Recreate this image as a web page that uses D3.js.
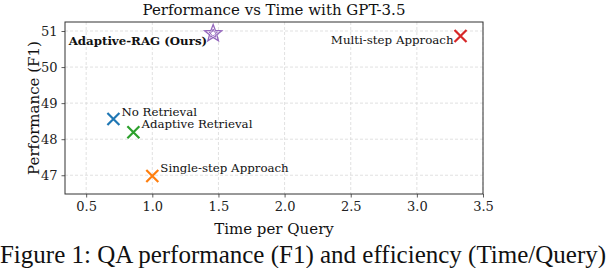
<!DOCTYPE html>
<html><head><meta charset="utf-8">
<script src="https://cdn.jsdelivr.net/npm/d3@7"></script>
<style>body{margin:0;background:#fff}svg{display:block}</style>
</head><body>
<svg id="c" width="606" height="268"></svg>
<script>
const methods = ["No Retrieval","Adaptive Retrieval","Single-step Approach","Multi-step Approach","Adaptive-RAG (Ours)"];
const timePerQuery = [0.706, 0.857, 1.0, 3.33, 1.46];
const performanceF1 = [48.56, 48.19, 46.98, 50.86, 50.93];
const colors = ["#1f77b4","#2ca02c","#ff7f0e","#d62728","#9467bd"];
const xTicks = [0.5,1.0,1.5,2.0,2.5,3.0,3.5];
const yTicks = [47,48,49,50,51];
const titleText = "Performance vs Time with GPT-3.5";
const xLabel = "Time per Query";
const yLabel = "Performance (F1)";
const caption = "Figure 1: QA performance (F1) and efficiency (Time/Query)";

const svg = d3.select("#c");
const L=65,R=483,T=22,B=194;
const x = d3.scaleLinear().domain([0.34,3.5]).range([L,R]);
const y = d3.scaleLinear().domain([46.48,51.25]).range([B,T]);
const serif = "DejaVu Serif";

// grid
const g = svg.append("g");
g.selectAll(".gx").data(xTicks).join("line")
  .attr("x1",d=>x(d)).attr("x2",d=>x(d)).attr("y1",T).attr("y2",B)
  .attr("stroke","#d9d9d9").attr("stroke-width",0.8).attr("stroke-dasharray","3,2");
g.selectAll(".gy").data(yTicks).join("line")
  .attr("y1",d=>y(d)).attr("y2",d=>y(d)).attr("x1",L).attr("x2",R)
  .attr("stroke","#d9d9d9").attr("stroke-width",0.8).attr("stroke-dasharray","3,2");

// axes
const xa = svg.append("g").attr("transform",`translate(0,${B})`)
  .call(d3.axisBottom(x).tickValues(xTicks).tickFormat(d3.format(".1f")).tickSize(3.5).tickPadding(4));
const ya = svg.append("g").attr("transform",`translate(${L},0)`)
  .call(d3.axisLeft(y).tickValues(yTicks).tickFormat(d3.format("d")).tickSize(3.5).tickPadding(4));
[xa,ya].forEach(a=>{
  a.select(".domain").remove();
  a.selectAll(".tick line").attr("stroke","#333").attr("stroke-width",0.8);
  a.selectAll(".tick text").attr("font-family",serif).attr("font-size",13).attr("fill","#222");
});
svg.append("rect").attr("x",L).attr("y",T).attr("width",R-L).attr("height",B-T)
  .attr("fill","none").attr("stroke","#333").attr("stroke-width",1);

// markers
const pts = methods.map((m,i)=>({m,t:timePerQuery[i],p:performanceF1[i],c:colors[i],i}));
const xs = 6;
pts.filter(d=>d.i!==4).forEach(d=>{
  const cx=x(d.t), cy=y(d.p);
  svg.append("path").attr("d",`M${cx-xs},${cy-xs}L${cx+xs},${cy+xs}M${cx-xs},${cy+xs}L${cx+xs},${cy-xs}`)
    .attr("stroke",d.c).attr("stroke-width",2.2).attr("fill","none");
});
function starPath(cx,cy,ro,ri){
  let s="";
  for(let k=0;k<10;k++){
    const r=k%2?ri:ro, a=-Math.PI/2+k*Math.PI/5;
    s+=(k?"L":"M")+(cx+r*Math.cos(a))+","+(cy+r*Math.sin(a));
  }
  return s+"Z";
}
const s = pts[4];
svg.append("path").attr("d",starPath(x(s.t),y(s.p),9,3.8)).attr("fill","none").attr("stroke",s.c).attr("stroke-width",1.3);
svg.append("path").attr("d",starPath(x(s.t),y(s.p),4.5,1.9)).attr("fill","none").attr("stroke",s.c).attr("stroke-width",1);

// labels
const offs = [[8,-3,"start"],[8,-4,"start"],[8,-4,"start"],[-7,8,"end"],[-6,11,"end"]];
pts.forEach(d=>{
  const o=offs[d.i];
  svg.append("text").attr("x",x(d.t)+o[0]).attr("y",y(d.p)+o[1]).attr("text-anchor",o[2])
    .attr("font-family",serif).attr("font-size",11.8).attr("font-weight",d.i===4?"bold":"normal")
    .attr("fill","#111").text(d.m);
});

// titles
svg.append("text").attr("x",(L+R)/2).attr("y",15).attr("text-anchor","middle")
  .attr("font-family",serif).attr("font-size",15).attr("fill","#111").text(titleText);
svg.append("text").attr("x",(L+R)/2).attr("y",234).attr("text-anchor","middle")
  .attr("font-family",serif).attr("font-size",15).attr("fill","#111").text(xLabel);
svg.append("text").attr("transform",`translate(39,${(T+B)/2}) rotate(-90)`).attr("text-anchor","middle")
  .attr("font-family",serif).attr("font-size",15).attr("fill","#111").text(yLabel);
svg.append("text").attr("x",303).attr("y",263).attr("text-anchor","middle")
  .attr("font-family","Liberation Serif").attr("font-size",25).attr("fill","#111").text(caption);
</script>
</body></html>
